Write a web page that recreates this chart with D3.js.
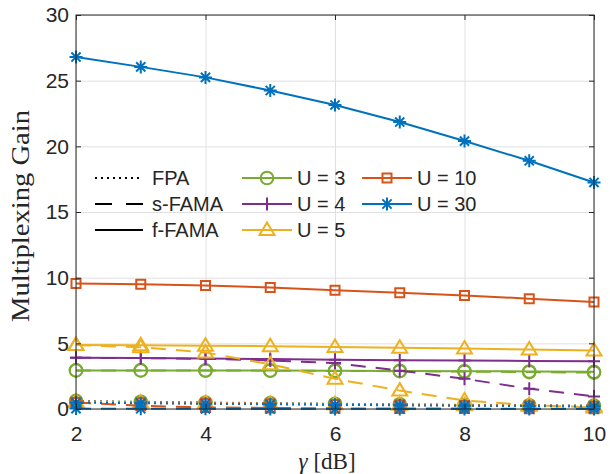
<!DOCTYPE html>
<html>
<head>
<meta charset="utf-8">
<script src="https://cdn.jsdelivr.net/npm/d3@7"></script>
<style>
  html, body { margin: 0; padding: 0; background: #fff; }
  svg { display: block; }
  text { fill: #262626; }
</style>
</head>
<body>
<div id="chart"></div>
<script>
(function() {

  // x values (gamma in dB)
  var gammaDb = [2, 3, 4, 5, 6, 7, 8, 9, 10];
  var xTicks = [2, 4, 6, 8, 10];
  var yTicks = [0, 5, 10, 15, 20, 25, 30];

  var userLabels = ["U = 3", "U = 4", "U = 5", "U = 10", "U = 30"];
  var schemeLabels = ["FPA", "s-FAMA", "f-FAMA"];

  // FPA
  var fpaU3  = [0.62, 0.55, 0.5, 0.45, 0.4, 0.36, 0.32, 0.29, 0.26];
  var fpaU4  = [0.58, 0.52, 0.47, 0.42, 0.38, 0.34, 0.3, 0.27, 0.24];
  var fpaU5  = [0.56, 0.5, 0.45, 0.4, 0.36, 0.32, 0.28, 0.25, 0.22];
  var fpaU10 = [0.52, 0.47, 0.42, 0.38, 0.34, 0.3, 0.26, 0.23, 0.2];
  var fpaU30 = [0.48, 0.44, 0.4, 0.36, 0.32, 0.28, 0.25, 0.22, 0.19];

  // s-FAMA
  var sU3  = [2.94, 2.94, 2.93, 2.92, 2.9, 2.88, 2.85, 2.81, 2.77];
  var sU4  = [3.9, 3.88, 3.82, 3.7, 3.5, 2.92, 2.3, 1.55, 0.96];
  var sU5  = [4.87, 4.7, 4.3, 3.4, 2.3, 1.4, 0.65, 0.3, 0.12];
  var sU10 = [0.5, 0.25, 0.12, 0.08, 0.05, 0.04, 0.03, 0.02, 0.02];
  var sU30 = [0.03, 0.02, 0.01, 0, 0, 0, 0, 0, 0];

  // f-FAMA
  var fU3  = [2.94, 2.94, 2.93, 2.93, 2.91, 2.9, 2.88, 2.86, 2.83];
  var fU4  = [3.9, 3.88, 3.85, 3.8, 3.75, 3.72, 3.69, 3.66, 3.63];
  var fU5  = [4.87, 4.85, 4.82, 4.78, 4.72, 4.66, 4.6, 4.53, 4.45];
  var fU10 = [9.55, 9.5, 9.4, 9.25, 9.05, 8.85, 8.65, 8.4, 8.15];
  var fU30 = [26.8, 26.05, 25.25, 24.25, 23.15, 21.85, 20.4, 18.9, 17.25];

  var colors = ["#77AC30", "#7E2F8E", "#EDB120", "#D95319", "#0072BD"];
  var markers = ["circle", "plus", "triangle", "square", "star"];
  var dashes = ["2,4", "15,10", null];

  var series = [
    [fpaU3, sU3, fU3],
    [fpaU4, sU4, fU4],
    [fpaU5, sU5, fU5],
    [fpaU10, sU10, fU10],
    [fpaU30, sU30, fU30]
  ];

  var width = 610, height = 474;
  var left = 76, right = 594, top = 15, bottom = 409;

  var svg = d3.select("#chart").append("svg")
      .attr("width", width)
      .attr("height", height);

  svg.append("rect").attr("width", width).attr("height", height).attr("fill", "#fff");

  var x = d3.scaleLinear().domain([2, 10]).range([left, right]);
  var y = d3.scaleLinear().domain([0, 30]).range([bottom, top]);

  // grid
  svg.append("g")
      .attr("transform", "translate(0," + bottom + ")")
      .call(d3.axisBottom(x).tickValues(xTicks).tickSize(-(bottom - top)).tickFormat(""))
      .call(function(g) { g.select(".domain").remove(); })
      .selectAll("line").attr("stroke", "#e0e0e0").attr("stroke-width", 1);
  svg.append("g")
      .attr("transform", "translate(" + left + ",0)")
      .call(d3.axisLeft(y).tickValues(yTicks).tickSize(-(right - left)).tickFormat(""))
      .call(function(g) { g.select(".domain").remove(); })
      .selectAll("line").attr("stroke", "#e0e0e0").attr("stroke-width", 1);

  function markerPath(type) {
    if (type == "plus") return "M-6,0H6M0,-6.5V6.5";
    if (type == "triangle") return "M0,-7.5L7.5,5L-7.5,5Z";
    if (type == "square") return "M-4.5,-4.5H4.5V4.5H-4.5Z";
    if (type == "star") return "M-6.5,0H6.5M0,-6.5V6.5M-4.6,-4.6L4.6,4.6M-4.6,4.6L4.6,-4.6";
    return d3.symbol(d3.symbolCircle, Math.PI * 6.3 * 6.3)();
  }

  var line = d3.line()
      .x(function(d, i) { return x(gammaDb[i]); })
      .y(function(d) { return y(d); });

  var plot = svg.append("g");

  series.forEach(function(userSeries, u) {
    userSeries.forEach(function(values, s) {
      plot.append("path")
          .datum(values)
          .attr("d", line)
          .attr("fill", "none")
          .attr("stroke", colors[u])
          .attr("stroke-width", 2)
          .attr("stroke-dasharray", dashes[s]);

      plot.selectAll(null)
          .data(values)
          .enter().append("path")
          .attr("transform", function(d, i) { return "translate(" + x(gammaDb[i]) + "," + y(d) + ")"; })
          .attr("d", markerPath(markers[u]))
          .attr("fill", "none")
          .attr("stroke", colors[u])
          .attr("stroke-width", 2);
    });
  });

  // axes box with inward ticks
  var axisColor = "#262626";
  function styleAxis(g) {
    g.select(".domain").remove();
    g.selectAll("line").attr("stroke", axisColor);
    g.selectAll("text")
        .style("font-family", "'Liberation Sans', Arial, sans-serif")
        .style("font-size", "21px")
        .attr("fill", axisColor);
  }

  svg.append("g")
      .attr("transform", "translate(0," + bottom + ")")
      .call(d3.axisBottom(x).tickValues(xTicks).tickSize(-5).tickPadding(17))
      .call(styleAxis);
  svg.append("g")
      .attr("transform", "translate(0," + top + ")")
      .call(d3.axisTop(x).tickValues(xTicks).tickSize(-5).tickFormat(""))
      .call(styleAxis);
  svg.append("g")
      .attr("transform", "translate(" + left + ",0)")
      .call(d3.axisLeft(y).tickValues(yTicks).tickSize(-5).tickPadding(7))
      .call(styleAxis);
  svg.append("g")
      .attr("transform", "translate(" + right + ",0)")
      .call(d3.axisRight(y).tickValues(yTicks).tickSize(-5).tickFormat(""))
      .call(styleAxis);

  svg.append("rect")
      .attr("x", left).attr("y", top)
      .attr("width", right - left).attr("height", bottom - top)
      .attr("fill", "none")
      .attr("stroke", axisColor)
      .attr("stroke-width", 1);

  // axis labels
  svg.append("text")
      .attr("transform", "translate(29,216) rotate(-90)")
      .attr("text-anchor", "middle")
      .attr("textLength", 212)
      .attr("lengthAdjust", "spacingAndGlyphs")
      .style("font-family", "'Liberation Serif', 'Times New Roman', serif")
      .style("font-size", "25px")
      .text("Multiplexing Gain");

  var xl = svg.append("text")
      .attr("x", 327)
      .attr("y", 469)
      .attr("text-anchor", "middle")
      .style("font-family", "'Liberation Serif', 'Times New Roman', serif")
      .style("font-size", "23px");
  xl.append("tspan").style("font-style", "italic").text("\u03B3");
  xl.append("tspan").attr("dx", 6).text("[dB]");

  // legend
  var legend = svg.append("g");
  var rowY = [178, 204, 230];
  var legendFont = "'Liberation Sans', Arial, sans-serif";

  schemeLabels.forEach(function(name, i) {
    legend.append("line")
        .attr("x1", 95).attr("x2", 143)
        .attr("y1", rowY[i]).attr("y2", rowY[i])
        .attr("stroke", "#000")
        .attr("stroke-width", 2)
        .attr("stroke-dasharray", i == 1 ? "17,14" : dashes[i]);
    legend.append("text")
        .attr("x", 152).attr("y", rowY[i]).attr("dy", "0.35em")
        .style("font-family", legendFont)
        .style("font-size", "20px")
        .attr("fill", "#000")
        .text(name);
  });

  userLabels.forEach(function(name, u) {
    var col = u < 3 ? 0 : 1;
    var row = u < 3 ? u : u - 3;
    var x0 = col == 0 ? 242 : 362;
    var yy = rowY[row];
    legend.append("line")
        .attr("x1", x0).attr("x2", x0 + 50)
        .attr("y1", yy).attr("y2", yy)
        .attr("stroke", colors[u])
        .attr("stroke-width", 2);
    legend.append("path")
        .attr("transform", "translate(" + (x0 + 25) + "," + yy + ")")
        .attr("d", markerPath(markers[u]))
        .attr("fill", "none")
        .attr("stroke", colors[u])
        .attr("stroke-width", 2);
    legend.append("text")
        .attr("x", x0 + 55).attr("y", yy).attr("dy", "0.35em")
        .style("font-family", legendFont)
        .style("font-size", "20px")
        .attr("fill", "#000")
        .text(name);
  });

}());
</script>
</body>
</html>
